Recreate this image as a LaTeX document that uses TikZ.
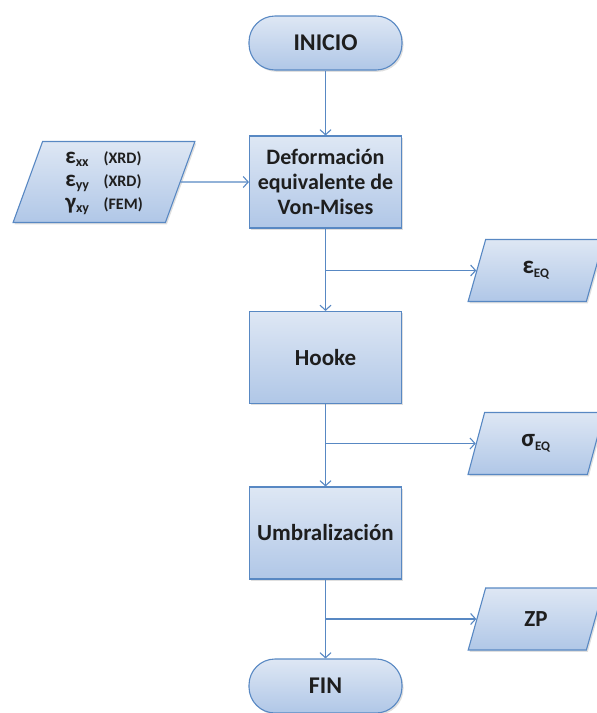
\documentclass[tikz,border=0pt]{standalone}
\usepackage{fontspec}
\setmainfont{Carlito}
\usepackage{xcolor}
\usetikzlibrary{shapes.geometric}
\usetikzlibrary{arrows.meta}
\usetikzlibrary{shadows}
\definecolor{borde}{RGB}{88,136,195}
\definecolor{claro}{RGB}{222,231,244}
\definecolor{oscuro}{RGB}{176,199,231}
\definecolor{texto}{RGB}{30,30,30}

\tikzset{
  caja/.style={draw=borde, line width=1.1pt, top color=claro, bottom color=oscuro,
    text=texto, align=center, inner sep=2pt,
    drop shadow={opacity=0.25, shadow xshift=1.5pt, shadow yshift=-1.8pt}},
  proceso/.style={caja, rectangle, minimum width=152pt, minimum height=92pt},
  terminal/.style={caja, rectangle, rounded corners=26pt, minimum width=153pt, minimum height=54pt,
    font=\fontsize{24}{28}\selectfont\bfseries},
  datos/.style={caja, trapezium, trapezium left angle=76, trapezium right angle=104,
    trapezium stretches=true, minimum width=136pt, minimum height=62pt},
  flujo/.style={draw=borde, line width=1.1pt, -{Straight Barb[length=5pt,width=11pt]}}
}

\begin{document}
\begin{tikzpicture}[x=1pt,y=-1pt]
  \pgfmathsetmacro{\cx}{325.5}
  \pgfmathsetmacro{\dx}{536}
  \useasboundingbox (0,0) rectangle (597,713);

  \node[terminal] (inicio) at (\cx,43) {INICIO};
  \node[proceso,font=\fontsize{22}{25}\selectfont\bfseries] (deform) at (\cx,182)
    {Deformación\\equivalente de\\Von-Mises};
  \node[datos,minimum width=182pt,minimum height=81pt,trapezium left angle=75,
    trapezium right angle=105,font=\fontsize{16}{23}\selectfont\bfseries] (entrada) at (104,182)
    {\begin{tabular}{@{}l@{\hspace{14pt}}l@{}}
      {\fontsize{23}{23}\selectfont ε}\textsubscript{\fontsize{14}{14}\selectfont xx} & (XRD)\\
      {\fontsize{23}{23}\selectfont ε}\textsubscript{\fontsize{14}{14}\selectfont yy} & (XRD)\\
      {\fontsize{23}{23}\selectfont γ}\textsubscript{\fontsize{14}{14}\selectfont xy} & (FEM)
    \end{tabular}};
  \node[datos,font=\fontsize{25}{28}\selectfont\bfseries] (eps) at (\dx,270.5)
    {ε\textsubscript{\fontsize{13}{13}\selectfont EQ}};
  \node[proceso,font=\fontsize{23}{27}\selectfont\bfseries] (hooke) at (\cx,357.5) {Hooke};
  \node[datos,font=\fontsize{25}{28}\selectfont\bfseries] (sigma) at (\dx,443.5)
    {σ\textsubscript{\fontsize{13}{13}\selectfont EQ}};
  \node[proceso,font=\fontsize{23}{27}\selectfont\bfseries] (umbral) at (\cx,533) {Umbralización};
  \node[datos,font=\fontsize{23}{27}\selectfont\bfseries] (zp) at (\dx,619) {ZP};
  \node[terminal] (fin) at (\cx,686) {FIN};

  \coordinate (r1) at (deform.south |- eps.west);
  \coordinate (r2) at (hooke.south |- sigma.west);
  \coordinate (r3) at (umbral.south |- zp.west);

  \draw[flujo] (inicio) -- (deform);
  \draw[flujo] (entrada.east) -- (deform.west);
  \draw[flujo] (deform) -- (hooke);
  \draw[flujo] (r1) -- (eps.west);
  \draw[flujo] (hooke) -- (umbral);
  \draw[flujo] (r2) -- (sigma.west);
  \draw[flujo] (umbral) -- (fin);
  \draw[flujo] (r3) -- (zp.west);

\end{tikzpicture}
\end{document}
